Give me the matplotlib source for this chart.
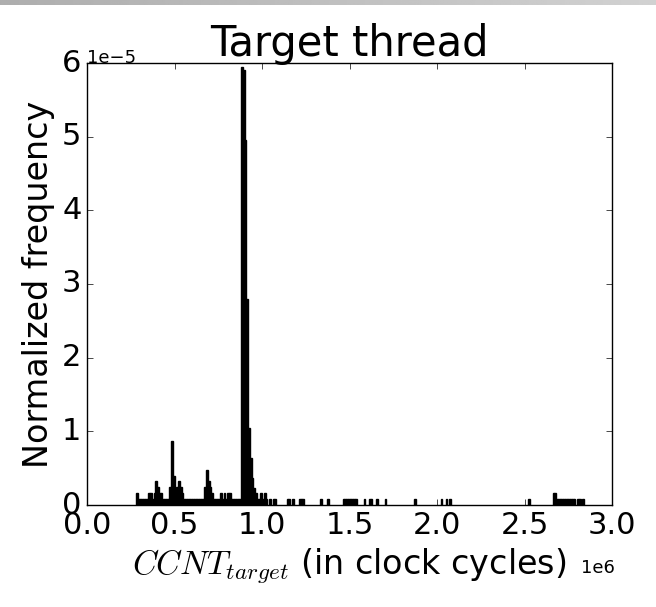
import numpy as np
import matplotlib
matplotlib.use("Agg")
import matplotlib.pyplot as plt
from matplotlib.transforms import ScaledTranslation

# Начала интервалов гистограммы (в 1e6 тактов) и нормированная частота (в 1e-5)
bin_start = [0.28, 0.29, 0.30, 0.31, 0.32, 0.33, 0.34, 0.35, 0.36, 0.37,
             0.38, 0.39, 0.40, 0.41, 0.42, 0.43, 0.44, 0.45, 0.46, 0.47,
             0.48, 0.49, 0.50, 0.51, 0.52, 0.53, 0.54, 0.55, 0.56, 0.57,
             0.58, 0.59, 0.60, 0.61, 0.62, 0.63, 0.64, 0.65, 0.66, 0.67,
             0.68, 0.69, 0.70, 0.71, 0.72, 0.73, 0.74, 0.75, 0.76, 0.77,
             0.78, 0.79, 0.80, 0.81, 0.82, 0.83, 0.84, 0.85, 0.86, 0.87,
             0.88, 0.89, 0.90, 0.91, 0.92, 0.93, 0.94, 0.95, 0.96, 0.97,
             0.98, 0.99, 1.00, 1.01, 1.02, 1.04, 1.06, 1.07,
             1.14, 1.15, 1.17, 1.21, 1.22, 1.23, 1.33, 1.37,
             1.46, 1.47, 1.48, 1.49, 1.50, 1.51, 1.52, 1.53,
             1.58, 1.61, 1.62, 1.65, 1.70, 1.87, 2.02, 2.05, 2.07, 2.52,
             2.66, 2.67, 2.68, 2.69, 2.70, 2.71, 2.72, 2.73, 2.74, 2.75,
             2.76, 2.77, 2.78, 2.80, 2.81, 2.83]
freq = [0.16, 0.08, 0.08, 0.08, 0.08, 0.08, 0.08, 0.16, 0.16, 0.08,
        0.16, 0.32, 0.24, 0.16, 0.16, 0.08, 0.08, 0.08, 0.08, 0.24,
        0.87, 0.40, 0.16, 0.24, 0.32, 0.24, 0.16, 0.08, 0.08, 0.08,
        0.08, 0.08, 0.08, 0.08, 0.08, 0.08, 0.08, 0.08, 0.08, 0.24,
        0.48, 0.32, 0.24, 0.16, 0.08, 0.08, 0.08, 0.08, 0.16, 0.08,
        0.16, 0.08, 0.16, 0.16, 0.08, 0.08, 0.08, 0.08, 0.08, 0.08,
        5.95, 5.90, 4.95, 2.80, 1.05, 0.64, 0.37, 0.23, 0.16, 0.08,
        0.08, 0.16, 0.08, 0.16, 0.08, 0.08, 0.08, 0.08,
        0.08, 0.08, 0.08, 0.08, 0.08, 0.08, 0.08, 0.08,
        0.08, 0.08, 0.08, 0.08, 0.08, 0.08, 0.08, 0.08,
        0.08, 0.08, 0.08, 0.08, 0.08, 0.08, 0.08, 0.08, 0.08, 0.08,
        0.16, 0.16, 0.08, 0.08, 0.08, 0.08, 0.08, 0.08, 0.08, 0.08,
        0.08, 0.08, 0.08, 0.08, 0.08, 0.08]
bin_width = 0.01

x_ticks = [0.0, 0.5, 1.0, 1.5, 2.0, 2.5, 3.0]
y_ticks = [0, 1, 2, 3, 4, 5, 6]

plt.style.use("classic")
plt.rcParams["figure.facecolor"] = "white"
plt.rcParams["savefig.facecolor"] = "white"
plt.rcParams["mathtext.fontset"] = "cm"

fig = plt.figure(figsize=(6.56, 6.07), dpi=100)

# серая полоса сверху (как на скриншоте)
band = fig.add_axes([0, 1 - 5 / 607, 1, 5 / 607])
band.imshow(np.linspace(0.68, 0.82, 256)[None, :], cmap="gray", vmin=0, vmax=1,
            aspect="auto")
band.axis("off")

ax = fig.add_axes([87 / 656, 1 - 505 / 607, 525 / 656, 442 / 607])

ax.bar(np.array(bin_start) * 1e6, np.array(freq) * 1e-5, width=bin_width * 1e6,
       align="edge", color="k", edgecolor="k", linewidth=1.0)

ax.set_xlim(0, 3e6)
ax.set_ylim(0, 6e-5)
ax.set_xticks(np.array(x_ticks) * 1e6)
ax.set_yticks(np.array(y_ticks) * 1e-5)
ax.ticklabel_format(style="sci", axis="both", scilimits=(0, 0))
ax.tick_params(labelsize=22, direction="in", top=True, right=True)

# сдвинуть подписи множителей осей
x_off = ax.xaxis.get_offset_text()
x_off.set_fontsize(13)
x_off.set_transform(x_off.get_transform() + ScaledTranslation(0.03, -0.15, fig.dpi_scale_trans))
y_off = ax.yaxis.get_offset_text()
y_off.set_fontsize(13)
y_off.set_transform(y_off.get_transform() + ScaledTranslation(0.0, -0.04, fig.dpi_scale_trans))

ax.set_title("Target thread", fontsize=30)
ax.set_xlabel(r"$CCNT_{target}$ (in clock cycles)", fontsize=24)
ax.set_ylabel("Normalized frequency", fontsize=24)

plt.savefig("out.png", dpi=100)
